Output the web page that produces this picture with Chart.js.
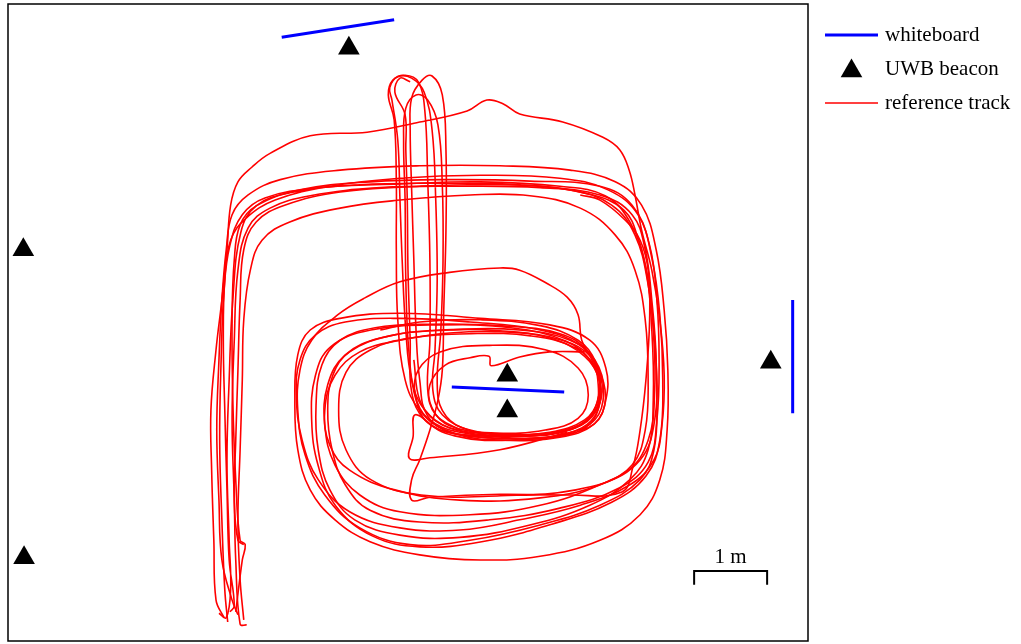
<!DOCTYPE html>
<html>
<head>
<meta charset="utf-8">
<script src="https://cdn.jsdelivr.net/npm/chart.js@4.4.1/dist/chart.umd.min.js"></script>
<style>
  html, body { margin: 0; padding: 0; background: #fff; }
  #wrap { width: 1021px; height: 644px; position: relative; }
</style>
</head>
<body>
<div id="wrap"><canvas id="track"></canvas></div>
<script>
// positions in metres, origin at lower-left corner of the room
const beacons = [[0.21, 5.36], [4.67, 8.12], [0.22, 1.14], [6.84, 3.64], [6.84, 3.15], [10.45, 3.82]]

const whiteboardTop = [[3.75, 8.27], [5.29, 8.51]]
const whiteboardMiddle = [[6.08, 3.48], [7.62, 3.41]]
const whiteboardRight = [[10.75, 4.67], [10.75, 3.12]]

const scaleBar = [[9.40, 0.77], [9.40, 0.96], [10.40, 0.96], [10.40, 0.77]]
const scaleBarLabel = '1 m'

const legendLabels = ['whiteboard', 'UWB beacon', 'reference track']

const trackA = [
  [2.96, 0.32], [2.85, 0.56], [2.82, 1.38], [2.79, 2.34], [2.78, 3.16], [2.85, 3.99], [2.93, 4.67], [3.00, 5.36],
  [3.05, 5.97], [3.15, 6.29], [3.34, 6.49], [3.59, 6.68], [4.14, 6.92], [4.92, 6.97], [5.60, 7.10], [6.29, 7.26],
  [6.56, 7.41], [6.78, 7.36], [7.01, 7.22], [7.60, 7.11], [8.15, 6.90], [8.38, 6.73], [8.51, 6.45], [8.59, 6.11],
  [8.68, 5.63], [8.82, 5.08], [8.93, 4.40], [8.99, 3.64], [8.96, 2.96], [8.85, 2.48], [8.52, 2.14], [7.84, 1.86],
  [7.01, 1.66], [6.19, 1.52], [5.37, 1.55], [4.68, 1.77], [4.25, 2.21], [4.03, 2.75], [3.95, 3.37], [4.00, 3.85],
  [4.21, 4.19], [4.62, 4.37], [5.37, 4.42], [6.33, 4.37], [7.29, 4.26], [7.84, 4.05], [8.08, 3.71], [8.08, 3.30],
  [7.90, 3.03], [7.42, 2.86], [6.74, 2.84], [6.05, 2.92], [5.71, 3.16], [5.53, 3.58],
  [5.45, 4.26], [5.40, 5.22], [5.37, 6.04], [5.34, 6.86], [5.26, 7.41], [5.23, 7.58], [5.34, 7.73], [5.53, 7.71],
  [5.70, 7.52], [5.81, 7.00], [5.86, 6.04], [5.88, 4.95], [5.85, 3.99], [5.82, 3.44], [5.95, 3.10], [6.33, 2.89],
  [7.01, 2.81], [7.70, 2.89], [8.05, 3.16], [8.14, 3.51], [8.00, 3.88], [7.59, 4.12], [6.88, 4.23], [6.05, 4.22],
  [5.37, 4.12], [4.82, 3.96], [4.48, 3.64], [4.34, 3.16], [4.41, 2.68], [4.68, 2.34], [5.30, 2.07], [6.19, 1.93],
  [7.29, 1.96], [8.11, 2.14], [8.66, 2.48], [8.86, 3.03], [8.88, 3.85], [8.82, 4.67], [8.73, 5.36], [8.55, 5.84],
  [8.11, 6.11], [7.29, 6.21], [6.19, 6.23], [5.10, 6.21], [4.14, 6.10], [3.59, 5.93], [3.29, 5.66], [3.15, 5.08],
  [3.10, 4.12], [3.07, 3.03], [3.10, 1.93], [3.12, 1.11], [3.18, 0.23], [3.27, 0.22]
]

const trackB = [
  [3.04, 0.40], [3.10, 0.48], [3.03, 1.11], [3.00, 2.07], [2.97, 3.16], [2.95, 4.12], [2.97, 4.95], [3.05, 5.49],
  [3.26, 5.79], [3.66, 6.04], [4.41, 6.23], [5.37, 6.34], [6.47, 6.38], [7.56, 6.34], [8.22, 6.18], [8.63, 5.84],
  [8.82, 5.25], [8.93, 4.47], [8.97, 3.58], [8.93, 2.75], [8.74, 2.26], [8.27, 1.90], [7.45, 1.60], [6.49, 1.36],
  [5.64, 1.29], [4.99, 1.44], [4.49, 1.85], [4.25, 2.40], [4.16, 3.03], [4.21, 3.63], [4.42, 4.03], [4.97, 4.26],
  [5.93, 4.33], [6.89, 4.29], [7.64, 4.11], [8.01, 3.81], [8.18, 3.44], [8.10, 3.05], [7.78, 2.86], [7.16, 2.78],
  [6.34, 2.81], [5.79, 2.96], [5.59, 3.30], [5.49, 3.99], [5.45, 4.95], [5.44, 6.04], [5.42, 6.86], [5.45, 7.30],
  [5.59, 7.48], [5.75, 7.41], [5.89, 7.07], [5.95, 6.25], [5.96, 5.22], [5.93, 4.26], [5.88, 3.55], [5.95, 3.16],
  [6.22, 2.92], [6.90, 2.78], [7.59, 2.81], [7.97, 2.97], [8.11, 3.30], [8.05, 3.71], [7.78, 4.01], [7.16, 4.18],
  [6.34, 4.21], [5.52, 4.15], [4.97, 3.99], [4.63, 3.68], [4.53, 3.16], [4.63, 2.62], [4.97, 2.21], [5.66, 2.00],
  [6.75, 1.99], [7.78, 2.07], [8.47, 2.32], [8.77, 2.75], [8.86, 3.44], [8.84, 4.26], [8.77, 4.95], [8.64, 5.49],
  [8.44, 5.90], [7.97, 6.12], [7.01, 6.25], [5.92, 6.27], [4.82, 6.25], [3.86, 6.14], [3.40, 5.96], [3.19, 5.60],
  [3.08, 4.67], [3.03, 3.58], [3.00, 2.48], [3.03, 1.38], [3.05, 0.70], [2.99, 0.32], [2.89, 0.38]
]

const trackC = [
  [3.23, 1.32], [3.15, 1.38], [3.10, 1.93], [3.12, 2.75], [3.15, 3.71], [3.18, 4.67], [3.23, 5.36], [3.40, 5.74],
  [3.79, 5.97], [4.55, 6.15], [5.64, 6.23], [6.74, 6.25], [7.70, 6.18], [8.27, 5.97], [8.59, 5.56], [8.77, 4.88],
  [8.86, 4.12], [8.89, 3.30], [8.85, 2.62], [8.66, 2.21], [8.11, 1.86], [7.29, 1.59], [6.33, 1.38], [5.51, 1.32],
  [4.82, 1.55], [4.34, 2.00], [4.07, 2.55], [3.97, 3.16], [4.00, 3.71], [4.16, 4.12], [4.52, 4.47], [4.89, 4.70],
  [5.37, 4.92], [6.05, 5.05], [6.74, 5.11], [7.01, 5.08], [7.38, 4.90], [7.66, 4.71], [7.81, 4.47], [7.86, 4.12],
  [8.00, 3.85], [8.11, 3.51], [8.05, 3.14], [7.77, 2.92], [7.15, 2.81], [6.47, 2.81], [5.92, 2.89], [5.58, 3.10],
  [5.55, 2.80], [5.50, 2.50], [5.78, 2.51], [6.74, 2.62], [7.66, 2.86]
]

const trackD = [
  [3.15, 0.36], [3.07, 0.56], [2.93, 1.11], [2.89, 1.93], [2.86, 2.89], [2.89, 3.85], [2.93, 4.67], [2.99, 5.36],
  [3.07, 5.84], [3.29, 6.11], [3.73, 6.32], [4.55, 6.45], [5.64, 6.51], [6.74, 6.51], [7.70, 6.45], [8.32, 6.29],
  [8.68, 5.97], [8.88, 5.36], [8.99, 4.53], [9.04, 3.71], [9.03, 2.89], [8.93, 2.21], [8.66, 1.73], [8.11, 1.38],
  [7.29, 1.16], [6.47, 1.11], [5.64, 1.18], [4.96, 1.36], [4.48, 1.66], [4.14, 2.07], [3.97, 2.62], [3.93, 3.30],
  [3.97, 3.92], [4.14, 4.26], [4.55, 4.42], [5.37, 4.49], [6.47, 4.42], [7.42, 4.33], [7.97, 4.12], [8.19, 3.74],
  [8.19, 3.30], [8.03, 2.97], [7.56, 2.79], [6.81, 2.75], [6.12, 2.84], [5.75, 3.08], [5.64, 3.58], [5.59, 4.26],
  [5.56, 5.22], [5.53, 6.18], [5.51, 7.00], [5.53, 7.44], [5.67, 7.68], [5.81, 7.74], [5.95, 7.48], [6.00, 6.73],
  [6.00, 5.63], [5.97, 4.53], [5.95, 3.71], [5.89, 3.30], [5.78, 2.89], [5.64, 2.48], [5.53, 2.21], [5.53, 1.93],
  [5.78, 1.97], [6.74, 2.01], [7.70, 2.00], [8.41, 2.04], [8.56, 2.38], [8.66, 2.89], [8.74, 3.58], [8.79, 4.40],
  [8.77, 5.08], [8.66, 5.49], [8.45, 5.77], [8.11, 6.04], [7.84, 6.11]
]

const trackE = [
  [5.10, 4.26], [5.64, 4.37], [6.47, 4.40], [7.29, 4.32], [7.81, 4.12], [8.05, 3.82], [8.11, 3.41], [7.97, 3.05],
  [7.56, 2.86], [6.88, 2.81], [6.19, 2.86], [5.75, 3.05], [5.58, 3.37], [5.62, 3.71], [5.92, 3.96], [6.60, 4.05],
  [7.36, 3.99], [7.81, 3.74], [7.95, 3.37], [7.81, 3.05], [7.36, 2.89], [6.67, 2.85], [6.05, 2.95], [5.81, 3.19],
  [5.78, 3.51], [5.99, 3.78], [6.33, 3.88], [6.59, 3.90], [6.62, 3.77], [7.01, 3.89], [7.42, 3.96], [7.90, 3.96]
]

const trackF = [
  [3.23, 0.29], [3.18, 0.84], [3.15, 1.66], [3.18, 2.62], [3.21, 3.58], [3.23, 4.40], [3.32, 5.08], [3.48, 5.49],
  [3.86, 5.74], [4.55, 5.93], [5.37, 6.04], [6.33, 6.11], [7.15, 6.10], [7.84, 5.93], [8.32, 5.56], [8.59, 5.08],
  [8.73, 4.40], [8.77, 3.58], [8.73, 2.89], [8.55, 2.41], [8.11, 2.14], [7.29, 1.86], [6.33, 1.73], [5.37, 1.77],
  [4.82, 2.00], [4.48, 2.41], [4.34, 2.96], [4.38, 3.51], [4.62, 3.92], [5.10, 4.15], [5.92, 4.26], [6.74, 4.25],
  [7.42, 4.15], [7.90, 3.90], [8.11, 3.55], [8.08, 3.16], [7.86, 2.92], [7.36, 2.79], [6.60, 2.78], [5.99, 2.89],
  [5.64, 3.16], [5.44, 3.58], [5.34, 4.40], [5.32, 5.36], [5.32, 6.32], [5.29, 7.14], [5.21, 7.48], [5.27, 7.68],
  [5.44, 7.75], [5.62, 7.66], [5.71, 7.27], [5.75, 6.32], [5.78, 5.22], [5.78, 4.12], [5.75, 3.44], [5.86, 3.10],
  [6.19, 2.89]
]

const trackG = [
  [3.12, 0.40], [3.21, 1.11], [3.25, 1.32], [3.18, 1.38], [3.12, 2.21], [3.08, 3.30], [3.07, 4.40], [3.10, 5.22],
  [3.18, 5.70], [3.40, 5.96], [4.00, 6.18], [4.96, 6.29], [6.05, 6.32], [7.15, 6.30], [8.11, 6.23], [8.55, 5.97],
  [8.79, 5.42], [8.89, 4.67], [8.92, 3.85], [8.89, 3.03], [8.77, 2.45], [8.38, 2.10], [7.56, 1.82], [6.60, 1.66],
  [5.64, 1.63], [4.96, 1.79], [4.62, 2.14], [4.44, 2.62], [4.38, 3.16], [4.45, 3.64], [4.68, 3.96], [5.23, 4.18],
  [6.05, 4.26], [7.01, 4.26], [7.70, 4.12], [8.04, 3.85], [8.16, 3.41], [8.04, 3.03], [7.63, 2.84], [6.88, 2.75],
  [6.12, 2.81], [5.71, 3.03], [5.53, 3.41], [5.51, 4.12], [5.48, 5.08], [5.47, 6.04], [5.45, 6.73], [5.44, 7.21],
  [5.30, 7.52], [5.37, 7.71], [5.51, 7.66]
]

const trackH = [
  [3.01, 0.26], [2.97, 0.70], [2.93, 1.66], [2.90, 2.75], [2.92, 3.85], [2.96, 4.81], [3.04, 5.42], [3.21, 5.84],
  [3.52, 6.07], [4.27, 6.21], [5.37, 6.26], [6.47, 6.29], [7.56, 6.23], [8.18, 6.10], [8.52, 5.74], [8.73, 5.15],
  [8.82, 4.26], [8.84, 3.30], [8.77, 2.62], [8.52, 2.21], [7.97, 1.86], [7.15, 1.59], [6.19, 1.42], [5.37, 1.45],
  [4.75, 1.66], [4.41, 2.07], [4.25, 2.62], [4.22, 3.23], [4.30, 3.78], [4.55, 4.12], [5.03, 4.29], [5.78, 4.34],
  [6.74, 4.32], [7.56, 4.21], [7.95, 3.96], [8.08, 3.58], [8.03, 3.16], [7.73, 2.92], [7.01, 2.82], [6.26, 2.86],
  [5.85, 3.03], [5.64, 3.30], [5.56, 3.85]
]

const tracks = [trackA, trackB, trackC, trackD, trackE, trackF, trackG, trackH]

const toPoints = (arr) => arr.map(p => ({ x: p[0], y: p[1] }))

const serif = "'Liberation Serif', 'DejaVu Serif', serif"

var datasets = []
datasets.push({
  label: 'UWB beacon',
  data: toPoints(beacons),
  pointStyle: 'triangle',
  pointRadius: 12.5,
  backgroundColor: '#000',
  borderWidth: 0,
  showLine: false,
})
const boards = [whiteboardTop, whiteboardMiddle, whiteboardRight]
boards.forEach((b, i) => {
  datasets.push({
    label: 'whiteboard ' + i,
    data: toPoints(b),
    showLine: true,
    borderColor: '#0000ff',
    borderWidth: 3,
    pointRadius: 0,
  })
})
datasets.push({
  label: 'scale bar',
  data: toPoints(scaleBar),
  showLine: true,
  borderColor: '#000',
  borderWidth: 2,
  pointRadius: 0,
})
tracks.forEach((t, i) => {
  datasets.push({
    label: 'reference track ' + i,
    data: toPoints(t),
    showLine: true,
    borderColor: '#ff0000',
    borderWidth: 1.6,
    pointRadius: 0,
    tension: 0.4,
  })
})

// frame, scale bar text and the legend on the right
const decorations = {
  id: 'decorations',
  afterDraw(chart) {
    const ctx = chart.ctx
    const area = chart.chartArea
    const xs = chart.scales.x
    const ys = chart.scales.y
    ctx.save()
    ctx.strokeStyle = '#000'
    ctx.lineWidth = 1.5
    ctx.strokeRect(area.left, area.top, area.right - area.left, area.bottom - area.top)

    ctx.fillStyle = '#000'
    ctx.font = '21px ' + serif
    ctx.textAlign = 'center'
    ctx.textBaseline = 'middle'
    ctx.fillText(scaleBarLabel, xs.getPixelForValue(9.9), ys.getPixelForValue(1.15))

    const lx = area.right + 17
    const lw = 53
    const tx = lx + lw + 7
    const rows = [35, 69, 103]
    ctx.textAlign = 'left'
    ctx.lineWidth = 3
    ctx.strokeStyle = '#0000ff'
    ctx.beginPath()
    ctx.moveTo(lx, rows[0])
    ctx.lineTo(lx + lw, rows[0])
    ctx.stroke()

    const cx = lx + lw / 2, cy = rows[1] + 2, r = 12.5
    ctx.beginPath()
    ctx.moveTo(cx, cy - r)
    ctx.lineTo(cx + r * 0.866, cy + r / 2)
    ctx.lineTo(cx - r * 0.866, cy + r / 2)
    ctx.closePath()
    ctx.fill()

    ctx.lineWidth = 1.6
    ctx.strokeStyle = '#ff0000'
    ctx.beginPath()
    ctx.moveTo(lx, rows[2])
    ctx.lineTo(lx + lw, rows[2])
    ctx.stroke()

    legendLabels.forEach((t, i) => ctx.fillText(t, tx, rows[i]))
    ctx.restore()
  }
}

new Chart(document.getElementById('track'), {
  type: 'scatter',
  data: { datasets: datasets },
  options: {
    responsive: true,
    maintainAspectRatio: false,
    animation: false,
    layout: { autoPadding: false, padding: { left: 8, top: 4, right: 213, bottom: 3 } },
    scales: {
      x: { type: 'linear', min: 0, max: 10.96, display: false },
      y: { type: 'linear', min: 0, max: 8.726, display: false },
    },
    plugins: {
      legend: { display: false },
      tooltip: { enabled: false },
    },
  },
  plugins: [decorations],
})
</script>
</body>
</html>
